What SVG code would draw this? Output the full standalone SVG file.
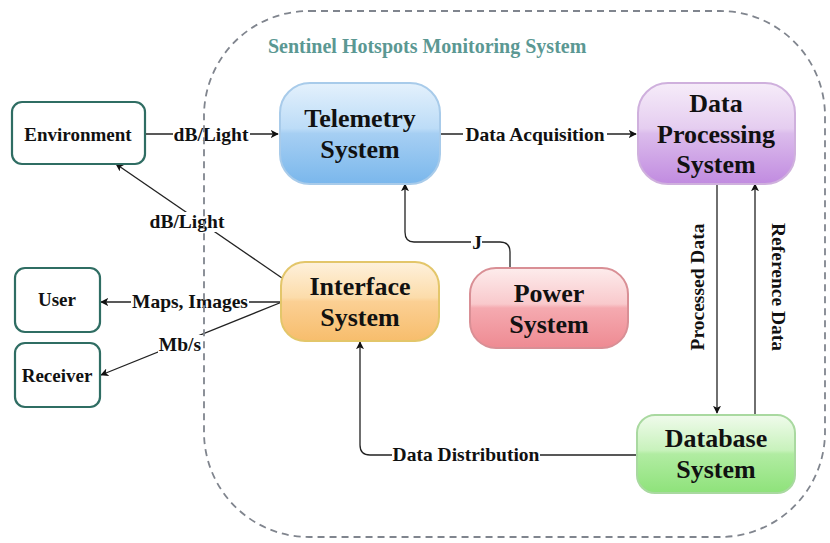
<svg xmlns="http://www.w3.org/2000/svg" width="830" height="543" viewBox="0 0 830 543">
<style>
.node{font-family:"Liberation Serif","Times New Roman",serif;font-weight:bold;font-size:26px;fill:#111;text-anchor:middle}
.ext{font-family:"Liberation Serif","Times New Roman",serif;font-weight:bold;font-size:19px;fill:#111;text-anchor:middle}
.lbl{font-family:"Liberation Serif","Times New Roman",serif;font-weight:bold;font-size:19.5px;fill:#111;text-anchor:middle}
.bg{fill:#fff}
.title{font-family:"Liberation Serif","Times New Roman",serif;font-weight:bold;font-size:20px;fill:#5b9893}
.extbox{fill:#fff;stroke:#2f6d63;stroke-width:2.2}
.conn{fill:none;stroke:#222;stroke-width:1.3;marker-end:url(#arr)}
</style>
<defs>
<marker id="arr" viewBox="0 0 10 10" refX="9" refY="5" markerWidth="8" markerHeight="8" markerUnits="userSpaceOnUse" orient="auto">
<path d="M0,0 L10,5 L0,10 L2.5,5 z" fill="#111"/>
</marker>
<linearGradient id="gBlue" x1="0" y1="0" x2="0" y2="1">
<stop offset="0" stop-color="#e4f1fc"/><stop offset="0.45" stop-color="#bcdcf7"/><stop offset="0.5" stop-color="#a6cff3"/><stop offset="1" stop-color="#7ab7ec"/>
</linearGradient>
<linearGradient id="gPurple" x1="0" y1="0" x2="0" y2="1">
<stop offset="0" stop-color="#f6ecf9"/><stop offset="0.45" stop-color="#e5cdf0"/><stop offset="0.5" stop-color="#dbbcec"/><stop offset="1" stop-color="#c18be0"/>
</linearGradient>
<linearGradient id="gOrange" x1="0" y1="0" x2="0" y2="1">
<stop offset="0" stop-color="#fef1dc"/><stop offset="0.45" stop-color="#fcdcaa"/><stop offset="0.5" stop-color="#fbd094"/><stop offset="1" stop-color="#f7bd6c"/>
</linearGradient>
<linearGradient id="gRed" x1="0" y1="0" x2="0" y2="1">
<stop offset="0" stop-color="#fdecec"/><stop offset="0.45" stop-color="#f9c9cc"/><stop offset="0.5" stop-color="#f5aab0"/><stop offset="1" stop-color="#ee8a92"/>
</linearGradient>
<linearGradient id="gGreen" x1="0" y1="0" x2="0" y2="1">
<stop offset="0" stop-color="#f0fbec"/><stop offset="0.45" stop-color="#c8f2bc"/><stop offset="0.5" stop-color="#b1eca2"/><stop offset="1" stop-color="#8ee27a"/>
</linearGradient>
</defs>
<rect width="830" height="543" fill="#fff"/>
<g id="connectors">
<path class="conn" d="M145,134 H278"/>
<path class="conn" d="M440,134 H636"/>
<path class="conn" d="M510,268 V252 Q510,242 500,242 H414 Q405,242 405,232 V184"/>
<path class="conn" d="M717,185 V413"/>
<path class="conn" d="M755,415 V184"/>
<path class="conn" d="M637,455 H370 Q360,455 360,445 V342"/>
<path class="conn" d="M282,278 L116,164"/>
<path class="conn" d="M282,302 H101"/>
<path class="conn" d="M282,302 L101,375"/>
<rect class="bg" x="173" y="124" width="77" height="21"/>
<text class="lbl" x="211" y="141">dB/Light</text>
<rect class="bg" x="463" y="124" width="144" height="21"/>
<text class="lbl" x="535" y="141">Data Acquisition</text>
<rect class="bg" x="471" y="234" width="11" height="18"/>
<text class="lbl" x="477" y="249">J</text>
<rect class="bg" x="688" y="225" width="18" height="124"/>
<text class="lbl" transform="translate(704,287) rotate(-90)">Processed Data</text>
<rect class="bg" x="769" y="225" width="18" height="124"/>
<text class="lbl" transform="translate(772,287) rotate(90)">Reference Data</text>
<rect class="bg" x="392" y="445" width="148" height="20"/>
<text class="lbl" x="466" y="461">Data Distribution</text>
<rect class="bg" x="148" y="212" width="78" height="20"/>
<text class="lbl" x="187" y="228">dB/Light</text>
<rect class="bg" x="131" y="291" width="118" height="21"/>
<text class="lbl" x="190" y="308">Maps, Images</text>
<rect class="bg" x="158" y="335" width="44" height="20"/>
<text class="lbl" x="180" y="351">Mb/s</text>
</g>
<g id="container">
<rect x="204" y="11" width="621" height="526" rx="105" ry="105" fill="none" stroke="#80858e" stroke-width="1.8" stroke-dasharray="7 5"/>
<text class="title" x="268" y="53">Sentinel Hotspots Monitoring System</text>
</g>
<g id="environment">
<rect class="extbox" x="12" y="102" width="133" height="62" rx="10"/>
<text class="ext" x="78" y="141">Environment</text>
</g>
<g id="user">
<rect class="extbox" x="15" y="268" width="85" height="64" rx="10"/>
<text class="ext" x="57" y="306">User</text>
</g>
<g id="receiver">
<rect class="extbox" x="15" y="343" width="85" height="64" rx="10"/>
<text class="ext" x="57" y="382">Receiver</text>
</g>
<g id="telemetry">
<rect x="280" y="83" width="160" height="101" rx="30" fill="url(#gBlue)" stroke="#a8cbea" stroke-width="2"/>
<text class="node" x="360" y="127">Telemetry</text>
<text class="node" x="360" y="158">System</text>
</g>
<g id="dataprocessing">
<rect x="638" y="83" width="157" height="101" rx="30" fill="url(#gPurple)" stroke="#cfb0dd" stroke-width="2"/>
<text class="node" x="716" y="112">Data</text>
<text class="node" x="716" y="143">Processing</text>
<text class="node" x="716" y="173">System</text>
</g>
<g id="interface">
<rect x="281" y="262" width="158" height="79" rx="24" fill="url(#gOrange)" stroke="#e3c66a" stroke-width="2"/>
<text class="node" x="360" y="295">Interface</text>
<text class="node" x="360" y="326">System</text>
</g>
<g id="power">
<rect x="470" y="268" width="158" height="80" rx="26" fill="url(#gRed)" stroke="#d98f95" stroke-width="2"/>
<text class="node" x="549" y="302">Power</text>
<text class="node" x="549" y="333">System</text>
</g>
<g id="database">
<rect x="637" y="415" width="158" height="78" rx="18" fill="url(#gGreen)" stroke="#a9d9a0" stroke-width="2"/>
<text class="node" x="716" y="447">Database</text>
<text class="node" x="716" y="478">System</text>
</g>
</svg>
